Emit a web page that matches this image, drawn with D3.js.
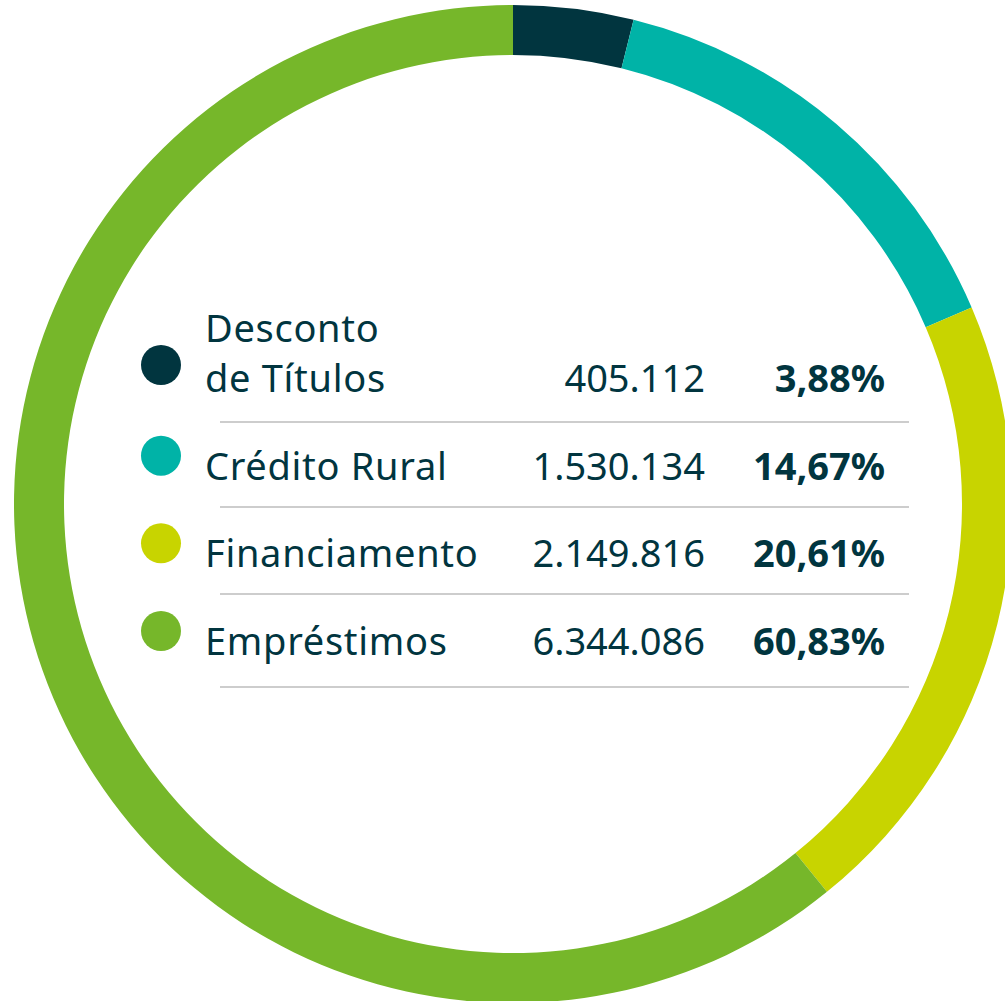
<!DOCTYPE html>
<html>
<head>
<meta charset="utf-8">
<script src="https://cdn.jsdelivr.net/npm/d3@7"></script>
<style>
  html, body { margin: 0; padding: 0; background: #fff; }
  svg { display: block; }
</style>
</head>
<body>
<script>
// data
var categories = ["Desconto de Títulos", "Crédito Rural", "Financiamento", "Empréstimos"]
var labelLines = [["Desconto", "de Títulos"], ["Crédito Rural"], ["Financiamento"], ["Empréstimos"]]
var values     = [405112, 1530134, 2149816, 6344086]
var valueText  = ["405.112", "1.530.134", "2.149.816", "6.344.086"]
var pctText    = ["3,88%", "14,67%", "20,61%", "60,83%"]
var colors     = ["#01353f", "#00b3a7", "#c8d400", "#76b72a"]

var width = 1005, height = 1001
var cx = 513, cy = 504
var outerR = 499, innerR = 449
var textColor = "#01353f"
var font = "'Noto Sans', 'Open Sans', sans-serif"

var svg = d3.select("body").append("svg")
    .attr("width", width)
    .attr("height", height)

// donut ring
var pie = d3.pie().sort(null).value(function(d) { return d })
var arc = d3.arc().innerRadius(innerR).outerRadius(outerR)

svg.append("g")
    .attr("transform", "translate(" + cx + "," + cy + ")")
    .selectAll("path")
    .data(pie(values))
    .join("path")
    .attr("d", arc)
    .attr("fill", function(d, i) { return colors[i] })

// legend table
var rowY = d3.scaleLinear().domain([0, categories.length - 1]).range([392, 655])
var lineGap = 50

var rows = svg.append("g").selectAll("g")
    .data(categories)
    .join("g")
    .attr("transform", function(d, i) { return "translate(0," + rowY(i) + ")" })

rows.append("circle")
    .attr("cx", 161)
    .attr("cy", function(d, i) { return i === 0 ? -27 : -24 })
    .attr("r", 20)
    .attr("fill", function(d, i) { return colors[i] })

rows.append("text")
    .attr("x", 205)
    .attr("fill", textColor)
    .style("font-family", font)
    .style("font-size", "38px")
    .style("letter-spacing", "0.7px")
    .selectAll("tspan")
    .data(function(d, i) { return labelLines[i] })
    .join("tspan")
    .attr("x", 205)
    .attr("y", function(d, j, all) { return (j - (all.length - 1)) * lineGap })
    .text(function(d) { return d })

rows.append("text")
    .attr("x", 705)
    .attr("text-anchor", "end")
    .attr("fill", textColor)
    .style("font-family", font)
    .style("font-size", "38px")
    .text(function(d, i) { return valueText[i] })

rows.append("text")
    .attr("x", 885)
    .attr("text-anchor", "end")
    .attr("fill", textColor)
    .style("font-family", font)
    .style("font-size", "38px")
    .style("font-weight", "bold")
    .text(function(d, i) { return pctText[i] })

// separator lines
var sepY = [422, 507, 594, 687]
svg.append("g").selectAll("line")
    .data(sepY)
    .join("line")
    .attr("x1", 220)
    .attr("x2", 909)
    .attr("y1", function(d) { return d })
    .attr("y2", function(d) { return d })
    .attr("stroke", "#bdbdbd")
    .attr("stroke-width", 1.5)
</script>
</body>
</html>
